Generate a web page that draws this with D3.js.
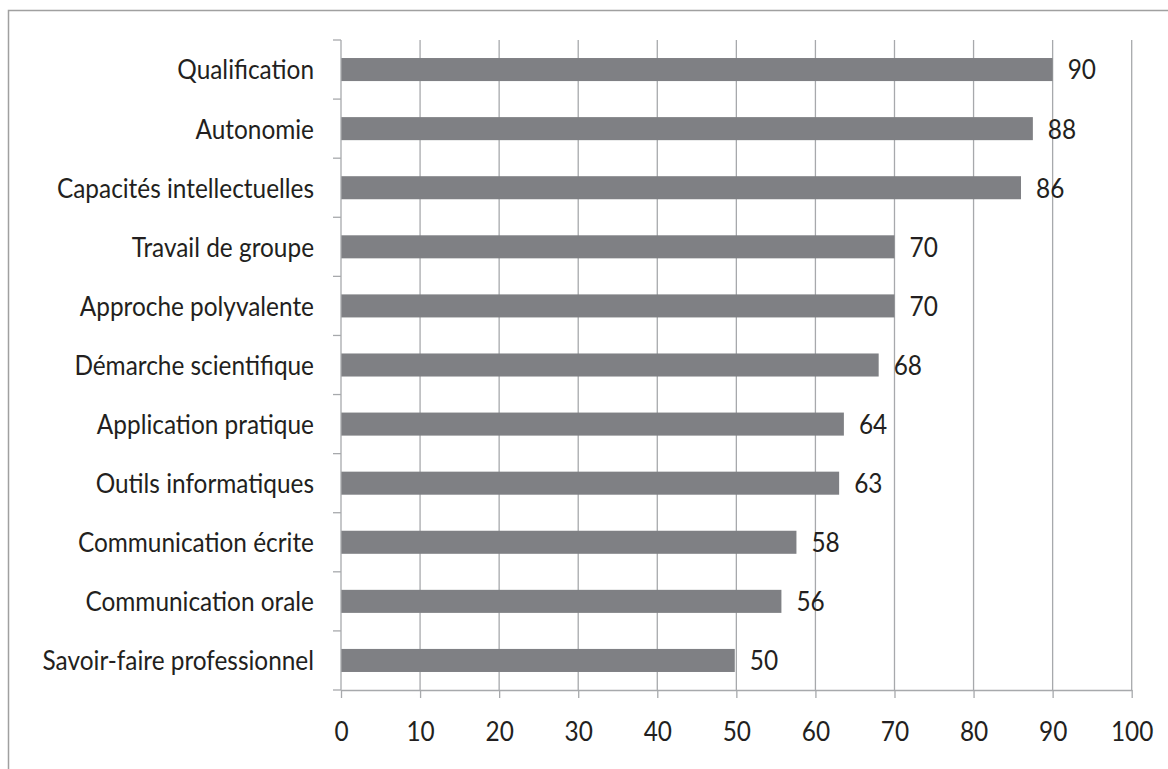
<!DOCTYPE html>
<html>
<head>
<meta charset="utf-8">
<script src="https://cdn.jsdelivr.net/npm/d3@7"></script>
<style>
  body { margin: 0; background: #fff; }
  text { font-family: Lato, "Open Sans", sans-serif; font-weight: 400; fill: #231f20; }
</style>
</head>
<body>
<svg id="chart" width="1168" height="769"></svg>
<script>
// data
const categories = [
  'Qualification',
  'Autonomie',
  'Capacités intellectuelles',
  'Travail de groupe',
  'Approche polyvalente',
  'Démarche scientifique',
  'Application pratique',
  'Outils informatiques',
  'Communication écrite',
  'Communication orale',
  'Savoir-faire professionnel',
];
const values = [90, 87.5, 86, 70, 70, 68, 63.6, 63, 57.6, 55.7, 49.8];
const xTicks = [0, 10, 20, 30, 40, 50, 60, 70, 80, 90, 100];

const svg = d3.select('#chart');
const margin = { top: 40, left: 341 };
const plotW = 790.7;
const plotH = 650;
const gridColor = '#a7a9ac';
const fontSize = 24.4;
const stretch = 1.13; // the original text is a little taller than it is wide

// outer frame, cut off at right and bottom like the original
svg.append('rect')
  .attr('x', 8.5).attr('y', 10.5)
  .attr('width', 1200).attr('height', 800)
  .attr('fill', 'none')
  .attr('stroke', '#a0a0a0')
  .attr('stroke-width', 1.5);

const g = svg.append('g').attr('transform', `translate(${margin.left},${margin.top})`);

const x = d3.scaleLinear().domain([0, 100]).range([0, plotW]);
const y = d3.scaleBand()
  .domain(categories)
  .range([0, plotH])
  .paddingInner(0.61)
  .paddingOuter(0.305);

// text placed with a small vertical stretch
function place(sel, fx, fy) {
  sel
    .attr('x', 0).attr('y', 0)
    .attr('dy', '0.36em')
    .attr('font-size', fontSize)
    .attr('transform', (d, i) => `translate(${fx(d, i)},${fy(d, i)}) scale(1,${stretch})`);
}

// vertical grid
g.append('g')
  .selectAll('line')
  .data(xTicks.slice(1))
  .join('line')
  .attr('x1', (d) => x(d)).attr('x2', (d) => x(d))
  .attr('y1', 0).attr('y2', plotH)
  .attr('stroke', gridColor)
  .attr('stroke-width', 1.3);

// bars
g.append('g')
  .selectAll('rect')
  .data(values)
  .join('rect')
  .attr('x', 0)
  .attr('y', (d, i) => y(categories[i]))
  .attr('width', (d) => x(d))
  .attr('height', y.bandwidth())
  .attr('fill', '#7f8084');

// value labels
const fmt = d3.format('.0f');
g.append('g')
  .selectAll('text')
  .data(values)
  .join('text')
  .call(place, (d) => x(d) + 15, (d, i) => y(categories[i]) + y.bandwidth() / 2)
  .text((d) => fmt(d));

// x axis
const xAxis = g.append('g')
  .attr('transform', `translate(0,${plotH})`)
  .call(d3.axisBottom(x).tickValues(xTicks).tickSize(8).tickSizeOuter(0));
xAxis.select('.domain').attr('stroke', gridColor).attr('stroke-width', 1.3);
xAxis.selectAll('.tick line').attr('stroke', gridColor).attr('stroke-width', 1.3);
xAxis.selectAll('.tick text')
  .attr('font-family', null)
  .attr('fill', null)
  .call(place, () => 0, () => 41);

// y axis with ticks on band boundaries
const yAxis = g.append('g');
yAxis.append('line')
  .attr('x1', 0).attr('x2', 0)
  .attr('y1', 0).attr('y2', plotH)
  .attr('stroke', gridColor)
  .attr('stroke-width', 1.3);
const bounds = d3.range(categories.length + 1).map((i) => i * y.step());
yAxis.selectAll('.ytick')
  .data(bounds)
  .join('line')
  .attr('class', 'ytick')
  .attr('x1', -8).attr('x2', 0)
  .attr('y1', (d) => d).attr('y2', (d) => d)
  .attr('stroke', gridColor)
  .attr('stroke-width', 1.3);
yAxis.selectAll('.ylabel')
  .data(categories)
  .join('text')
  .attr('class', 'ylabel')
  .attr('text-anchor', 'end')
  .call(place, () => -27, (d) => y(d) + y.bandwidth() / 2)
  .text((d) => d);
</script>
</body>
</html>
